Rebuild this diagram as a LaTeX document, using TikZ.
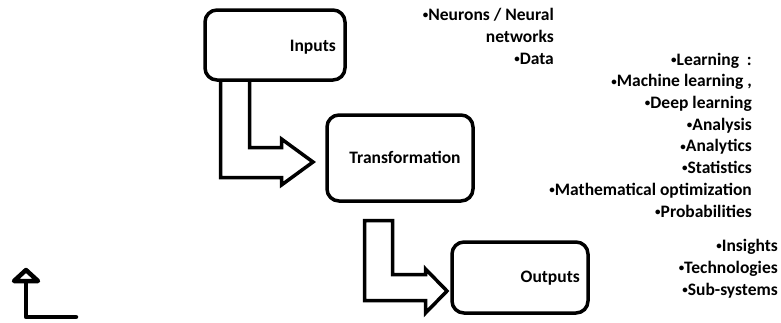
\documentclass[tikz,border=0pt]{standalone}
\usepackage{fontspec}
\setmainfont{Carlito}
\newcommand{\bul}{{\fontsize{11}{11}\selectfont\raisebox{1.8pt}{•}}}
\begin{document}
\begin{tikzpicture}[x=1pt,y=-1pt,
  box/.style={draw=black,line width=3.5pt,rounded corners=12pt,fill=white,inner sep=0pt},
  blockarrow/.style={draw=black,line width=3.5pt,fill=white,line join=miter},
  lbl/.style={font=\fontsize{17.5}{21.7}\selectfont\bfseries,inner sep=0pt},
  list/.style={lbl,align=right,anchor=base east},
  symb/.style={draw=black,line width=4.5pt,line join=round,line cap=round}]
\useasboundingbox (0,0) rectangle (781,322);
% block arrows (drawn first, under the boxes)
\draw[blockarrow] (220.5,80) -- (220.5,177.5) -- (281.5,177.5) -- (281.5,185) -- (313,162)
  -- (281.5,139) -- (281.5,147.5) -- (249.5,147.5) -- (249.5,80) -- cycle;
\draw[blockarrow] (364.5,220.5) -- (364.5,300.5) -- (425.5,300.5) -- (425.5,313) -- (447,291)
  -- (425.5,269) -- (425.5,274.5) -- (392.5,274.5) -- (392.5,220.5) -- cycle;
% boxes
\node[box,minimum width=140pt,minimum height=70pt] (inputs) at (275,45) {};
\node[box,minimum width=146pt,minimum height=86pt] (transf) at (400,158) {};
\node[box,minimum width=136pt,minimum height=71pt] (outputs) at (520,277.5) {};
% box texts
\node[lbl,anchor=base east] (tin) at (336,51) {Inputs};
\node[lbl,anchor=base] (ttr) at (405,163) {Transformation};
\node[lbl,anchor=base east] (tout) at (580,282) {Outputs};
% lists (anchor = baseline of last line)
\node[list] (l1) at (554,64) {\bul Neurons / Neural\\networks\\\bul Data};
\node[list] (l2) at (752,217) {\bul Learning\ \ :\\\bul Machine learning ,\\\bul Deep learning\\\bul Analysis\\\bul Analytics\\\bul Statistics\\\bul Mathematical optimization\\\bul Probabilities};
\node[list] (l3) at (778,295) {\bul Insights\\\bul Technologies\\\bul Sub-systems};
% corner symbol
\coordinate (s1) at (76,317);
\coordinate (s2) at (26,317);
\coordinate (s3) at (26,281);
\draw[symb] (s1) -- (s2) -- (s3);
\draw[symb,fill=white] (14,281) -- (26,270) -- (38,281) -- cycle;
\end{tikzpicture}
\end{document}
